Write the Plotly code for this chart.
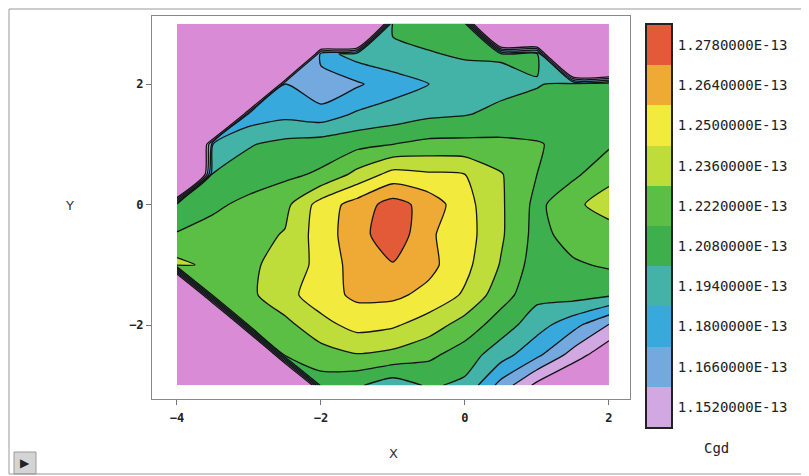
import plotly.graph_objects as go

# ---------------- data ----------------
X_VALUES = [-4, -3.5, -3, -2.5, -2, -1.5, -1, -0.5, 0, 0.5, 1, 1.5, 2]
Y_VALUES = [-3, -2.5, -2, -1.5, -1, -0.5, 0, 0.5, 1, 1.5, 2, 2.5, 3]
N = None  # outside the measured wafer area
# Cgd in units of 1e-13 F, one row per Y value (bottom to top)
CGD_ROWS = [
    [N, N, N, N, 1.215, 1.210, 1.200, 1.210, 1.205, 1.175, 1.148, 1.130, 1.120],      # y=-3
    [N, N, N, 1.225, 1.230, 1.235, 1.232, 1.225, 1.215, 1.200, 1.183, 1.160, 1.140],  # y=-2.5
    [N, N, 1.225, 1.232, 1.245, 1.255, 1.252, 1.243, 1.230, 1.215, 1.200, 1.185, 1.165],  # y=-2
    [N, 1.228, 1.233, 1.245, 1.258, 1.267, 1.267, 1.260, 1.248, 1.228, 1.212, 1.214, 1.210],  # y=-1.5
    [1.240, 1.232, 1.234, 1.240, 1.255, 1.270, 1.277, 1.268, 1.254, 1.235, 1.215, 1.220, 1.224],  # y=-1
    [1.223, 1.228, 1.231, 1.237, 1.257, 1.272, 1.288, 1.266, 1.256, 1.238, 1.217, 1.228, 1.230],  # y=-0.5
    [1.212, 1.219, 1.226, 1.232, 1.256, 1.270, 1.284, 1.272, 1.255, 1.238, 1.218, 1.233, 1.242],  # y=0
    [N, 1.209, 1.214, 1.219, 1.224, 1.240, 1.255, 1.252, 1.250, 1.237, 1.222, 1.219, 1.232],  # y=0.5
    [N, 1.194, 1.207, 1.212, 1.215, 1.218, 1.222, 1.226, 1.226, 1.225, 1.223, 1.218, 1.220],  # y=1
    [N, N, 1.185, 1.190, 1.186, 1.196, 1.200, 1.205, 1.207, 1.212, 1.214, 1.216, 1.218],  # y=1.5
    [N, N, N, 1.181, 1.168, 1.178, 1.188, 1.194, 1.200, 1.203, 1.207, 1.212, 1.215],  # y=2
    [N, N, N, N, 1.188, 1.200, 1.203, 1.207, 1.210, 1.210, 1.211, N, N],              # y=2.5
    [N, N, N, N, N, N, 1.212, 1.215, 1.212, N, N, N, N],                              # y=3
]
OUTSIDE_FLOOR = 0.95

LEVELS = [1.152, 1.166, 1.180, 1.194, 1.208, 1.222, 1.236, 1.250, 1.264, 1.278]
STEP = 0.014
LEVEL_LABELS = ["1.1520000E-13", "1.1660000E-13", "1.1800000E-13", "1.1940000E-13",
                "1.2080000E-13", "1.2220000E-13", "1.2360000E-13", "1.2500000E-13",
                "1.2640000E-13", "1.2780000E-13"]
# band colours: below first level (outside), then one per level upward
BAND_COLORS = ["#d98cd5", "#d2a8e2", "#74a9e0", "#38a9dc", "#42b3a6", "#3daf4c",
               "#5bbe45", "#bedc3a", "#f2ea3c", "#efa935", "#e25a38"]
X_TICKS = [-4, -2, 0, 2]
Y_TICKS = [-2, 0, 2]

# ---------------- figure ----------------
PAGE_OFFSET = 8           # default body margin of the html page
W, H = 809 - PAGE_OFFSET, 476 - PAGE_OFFSET
def fx(p):
    return (p - PAGE_OFFSET) / W
def fy(p):
    return 1 - (p - PAGE_OFFSET) / H

z_plot = [[v if v is not None else OUTSIDE_FLOOR for v in row] for row in CGD_ROWS]
nb = len(BAND_COLORS)
colorscale = [[i / (nb - 1), c] for i, c in enumerate(BAND_COLORS)]

fig = go.Figure()
fig.add_trace(go.Contour(
    x=X_VALUES, y=Y_VALUES, z=z_plot,
    colorscale=colorscale, showscale=False,
    contours=dict(start=LEVELS[0], end=LEVELS[-1], size=STEP, coloring="fill"),
    line=dict(color="#141414", width=1.3, smoothing=0.6),
    hoverinfo="skip", xaxis="x", yaxis="y",
))

# colour key built from the level list
fig.add_trace(go.Bar(
    x=[0] * len(LEVELS), y=[STEP] * len(LEVELS), base=LEVELS,
    marker=dict(color=BAND_COLORS[1:], line=dict(width=0)),
    width=1, xaxis="x2", yaxis="y2", showlegend=False, hoverinfo="skip",
))

tick_font = dict(family="DejaVu Sans Mono", size=12, color="#222", weight="bold")
label_font = dict(family="DejaVu Sans", size=13, color="#333")
fig.update_layout(
    width=W, height=H,
    margin=dict(l=0, r=0, t=0, b=0),
    paper_bgcolor="white", plot_bgcolor="white",
    barmode="overlay", bargap=0,
    showlegend=False,
    xaxis=dict(domain=[fx(152), fx(630)], range=[-4.347, 2.292], anchor="y",
               tickvals=X_TICKS, ticks="outside", ticklen=5, tickcolor="#777",
               ticklabelstandoff=3,
               showline=True, mirror=True, linecolor="#888", linewidth=1,
               showgrid=False, zeroline=False, tickfont=tick_font),
    yaxis=dict(domain=[fy(399), fy(16)], range=[-3.228, 3.129], anchor="x",
               tickvals=Y_TICKS, ticks="outside", ticklen=5, tickcolor="#777",
               ticklabelstandoff=0,
               showline=True, mirror=True, linecolor="#888", linewidth=1,
               showgrid=False, zeroline=False, tickfont=tick_font),
    xaxis2=dict(domain=[fx(647), fx(671)], range=[-0.5, 0.5], anchor="y2",
                showticklabels=False, ticks="", showgrid=False, zeroline=False,
                showline=True, mirror=True, linecolor="#222", linewidth=2, fixedrange=True),
    yaxis2=dict(domain=[fy(427), fy(25)], range=[LEVELS[0], LEVELS[-1] + STEP], anchor="x2",
                side="right", tickvals=[l + STEP / 2 for l in LEVELS], ticktext=LEVEL_LABELS,
                ticks="", ticklabelstandoff=2, showgrid=False, zeroline=False,
                showline=True, mirror=True, linecolor="#222", linewidth=2,
                tickfont=dict(family="DejaVu Sans Mono", size=14, color="#222")),
    annotations=[
        dict(text="Y", x=fx(70), y=fy(205), xref="paper", yref="paper", showarrow=False,
             xanchor="center", yanchor="middle", font=label_font),
        dict(text="X", x=fx(393), y=fy(453), xref="paper", yref="paper", showarrow=False,
             xanchor="center", yanchor="middle", font=label_font),
        dict(text="Cgd", x=fx(716), y=fy(448), xref="paper", yref="paper", showarrow=False,
             xanchor="center", yanchor="middle",
             font=dict(family="DejaVu Sans Mono", size=14, color="#222")),
        dict(text="▶", x=fx(25), y=fy(463), xref="paper", yref="paper", showarrow=False,
             xanchor="center", yanchor="middle",
             font=dict(family="DejaVu Sans", size=12, color="#222")),
    ],
    shapes=[
        dict(type="rect", xref="paper", yref="paper", x0=fx(9), x1=fx(805), y0=fy(474), y1=fy(9),
             line=dict(color="#999", width=1)),
        dict(type="rect", xref="paper", yref="paper", x0=fx(14), x1=fx(36), y0=fy(474), y1=fy(452),
             line=dict(color="#999", width=1), fillcolor="#d4d4d4", layer="below"),
    ],
)

fig.write_html("out.html")
